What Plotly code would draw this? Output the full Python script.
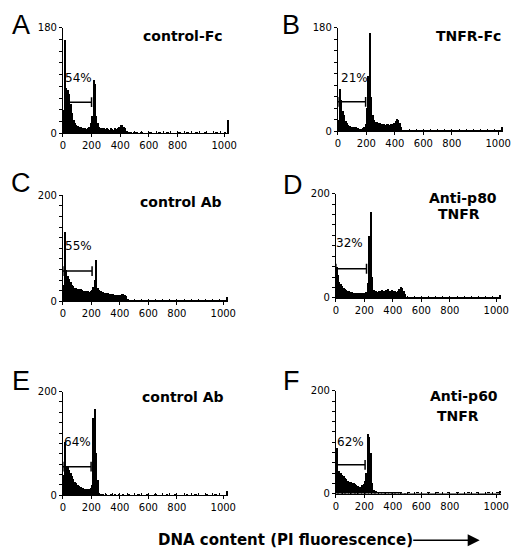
import plotly.graph_objects as go

# DNA histogram channels (bin starts); coarse bins in the low region, wider bins in the tail
channels = list(range(0, 500, 10))
tail_channels = list(range(500, 1150, 20))
end_channel = 1150

# counts per 10-channel bin, 0..490
counts_a = [40, 160, 78, 75, 68, 50, 35, 24, 18, 15,
            13, 12, 11, 10, 9, 9, 8, 9, 12, 18,
            30, 92, 85, 30, 18, 12, 10, 9, 10, 8,
            9, 8, 7, 9, 8, 7, 9, 8, 10, 12,
            14, 14, 12, 9, 5, 3, 2, 2, 1, 2]
counts_b = [20, 73, 55, 35, 28, 18, 14, 11, 9, 8,
            8, 7, 7, 6, 6, 5, 5, 6, 8, 12,
            40, 96, 172, 60, 28, 20, 17, 16, 15, 14,
            13, 12, 12, 11, 12, 12, 11, 12, 13, 15,
            18, 22, 20, 15, 8, 3, 2, 1, 1, 1]
counts_c = [30, 130, 58, 48, 42, 36, 31, 28, 25, 24,
            23, 22, 22, 20, 19, 19, 18, 18, 17, 18,
            20, 26, 40, 77, 25, 20, 18, 17, 17, 16,
            16, 15, 14, 14, 13, 13, 12, 12, 12, 11,
            12, 13, 14, 12, 10, 4, 2, 1, 1, 1]
counts_d = [60, 45, 32, 28, 24, 20, 17, 15, 14, 13,
            12, 12, 11, 11, 10, 10, 11, 10, 10, 11,
            10, 12, 30, 119, 166, 40, 15, 13, 14, 12,
            14, 13, 15, 13, 14, 16, 17, 14, 13, 15,
            14, 13, 12, 14, 18, 22, 19, 13, 8, 3]
counts_e = [40, 104, 57, 56, 50, 44, 38, 32, 27, 24,
            21, 19, 17, 15, 14, 13, 13, 13, 13, 14,
            20, 150, 167, 82, 30, 6, 3, 2, 2, 1,
            2, 1, 1, 2, 1, 1, 2, 1, 1, 2,
            1, 1, 2, 1, 1, 1, 2, 1, 1, 1]
counts_f = [89, 44, 44, 40, 37, 34, 31, 28, 25, 23,
            22, 21, 20, 19, 17, 15, 14, 14, 16, 18,
            25, 40, 116, 110, 79, 20, 8, 5, 5, 4,
            4, 4, 3, 4, 3, 3, 4, 3, 3, 3,
            3, 4, 3, 2, 2, 2, 1, 1, 1, 1]

# counts per 20-channel bin, 500..1140
tail_a = [2, 1, 2, 1, 1, 2, 1, 1, 2, 1, 1, 2, 1, 1, 1, 2, 1,
          1, 2, 1, 1, 2, 1, 1, 2, 1, 1, 1, 2, 1, 1, 2, 1]
tail_b = [1, 2, 1, 1, 2, 1, 1, 1, 2, 1, 1, 2, 1, 1, 2, 1, 1,
          1, 2, 1, 1, 2, 1, 1, 1, 2, 1, 1, 2, 1, 1, 1, 2]
tail_c = [1, 1, 2, 1, 1, 1, 2, 1, 1, 1, 2, 1, 1, 1, 1, 2, 1,
          1, 1, 2, 1, 1, 1, 2, 1, 1, 1, 1, 2, 1, 1, 1, 2]
tail_d = [2, 1, 1, 2, 1, 1, 2, 1, 1, 1, 2, 1, 1, 2, 1, 1, 1,
          2, 1, 1, 1, 2, 1, 1, 2, 1, 1, 1, 2, 1, 1, 1, 2]
tail_e = [1, 2, 1, 1, 2, 1, 1, 2, 1, 1, 1, 2, 1, 1, 2, 1, 1,
          1, 2, 1, 1, 2, 1, 1, 1, 2, 1, 1, 2, 1, 1, 1, 2]
tail_f = [2, 1, 1, 2, 1, 1, 1, 2, 1, 1, 2, 1, 1, 1, 2, 1, 1,
          2, 1, 1, 1, 2, 1, 1, 2, 1, 1, 1, 2, 1, 1, 2, 1]

# overflow channel at the right end
overflow = [22, 5, 5, 4, 7, 5]

# sub-G1 gate (start, end, level) and its percentage
gate_start = [20, 0, 0, 0, 0, 0]
gate_end = [200, 195, 205, 215, 198, 205]
gate_level = [53, 51, 57, 56, 55, 56]
gate_pct = ["54%", "21%", "55%", "32%", "64%", "62%"]

panel_letters = ["A", "B", "C", "D", "E", "F"]
panel_titles = [["control-Fc"], ["TNFR-Fc"], ["control Ab"],
                ["Anti-p80", "TNFR"], ["control Ab"], ["Anti-p60", "TNFR"]]
y_max = [180, 180, 200, 200, 200, 200]

x_ticks = [0, 200, 400, 600, 800, 1125]
x_ticktext = ["0", "200", "400", "600", "800", "1000"]

# page body keeps an 8 px margin, so the figure is sized to fill the rest of the window
OFF = 8
W, H = 520 - OFF, 555 - OFF
def px(x):
    return (x - OFF) / W
def py(y):
    return 1 - (y - OFF) / H

# plot areas in window pixels: left, right, top, bottom
boxes = [(61, 231, 22, 130), (342, 511, 22, 127.7),
         (61, 230, 193.3, 301.7), (340, 509, 191.7, 298.3),
         (61, 230, 394, 500), (340, 509, 393.3, 498.3)]
letter_pos = [(18, 19), (294, 19), (18, 181), (296, 183), (18, 383), (295, 383)]
title_pos = [[(184, 30)], [(476, 30)], [(182, 200)],
             [(470, 196), (466, 212)], [(184, 400)], [(471, 399), (465, 419)]]
pct_pos = [(109, 95), (120, 93), (109, 105), (95, 106), (102, 102), (102, 100)]

all_counts = [counts_a, counts_b, counts_c, counts_d, counts_e, counts_f]
all_tails = [tail_a, tail_b, tail_c, tail_d, tail_e, tail_f]

tick_font = dict(family="DejaVu Sans", size=10, color="black")

fig = go.Figure()
for i in range(6):
    n = i + 1
    xa = "x" if n == 1 else f"x{n}"
    ya = "y" if n == 1 else f"y{n}"
    xs = [c + 5 for c in channels] + [c + 10 for c in tail_channels] + [end_channel]
    ws = [10] * len(channels) + [20] * len(tail_channels) + [9]
    ys = all_counts[i] + all_tails[i] + [overflow[i]]
    fig.add_trace(go.Bar(x=xs, y=ys, width=ws, xaxis=xa, yaxis=ya,
                         marker=dict(color="black", line=dict(width=0)),
                         showlegend=False, hoverinfo="skip"))
    fig.add_trace(go.Scatter(x=[gate_start[i], gate_end[i]], y=[gate_level[i], gate_level[i]],
                             xaxis=xa, yaxis=ya, mode="lines+markers",
                             line=dict(color="black", width=1.5),
                             marker=dict(symbol="line-ns", size=7, color="black",
                                         line=dict(color="black", width=1.5)),
                             showlegend=False, hoverinfo="skip"))

    l, r, t, b = boxes[i]
    key = "" if n == 1 else str(n)
    fig.layout["xaxis" + key] = dict(
        domain=[px(l), px(r)], range=[0, 1160], anchor=ya,
        showline=True, linecolor="black", linewidth=1, showgrid=False, zeroline=False,
        tickvals=x_ticks, ticktext=x_ticktext, ticks="outside", ticklen=3,
        tickcolor="black", tickfont=tick_font,
        minor=dict(dtick=50, tick0=0, ticks="inside", ticklen=2, tickcolor="black"))
    fig.layout["yaxis" + key] = dict(
        domain=[py(b), py(t)], range=[0, y_max[i]], anchor=xa,
        showline=True, linecolor="black", linewidth=1, showgrid=False, zeroline=False,
        tickvals=[0, y_max[i]], ticks="outside", ticklen=3, tickcolor="black",
        tickfont=tick_font,
        minor=dict(dtick=20, tick0=0, ticks="outside", ticklen=3, tickcolor="black"))

    fig.add_annotation(x=pct_pos[i][0], y=pct_pos[i][1], xref=xa, yref=ya,
                       text=gate_pct[i], showarrow=False,
                       xanchor="center", yanchor="middle",
                       font=dict(family="DejaVu Sans", size=12, color="black"))
    lx, ly = letter_pos[i]
    fig.add_annotation(x=px(lx), y=py(ly), xref="paper", yref="paper",
                       text=panel_letters[i], showarrow=False,
                       xanchor="center", yanchor="middle",
                       font=dict(family="Liberation Sans", size=27, color="black"))
    for line, (tx, ty) in zip(panel_titles[i], title_pos[i]):
        fig.add_annotation(x=px(tx), y=py(ty), xref="paper", yref="paper",
                           text=line, showarrow=False,
                           xanchor="center", yanchor="middle",
                           font=dict(family="DejaVu Sans", size=14, color="black",
                                     weight="bold"))

# shared x-axis caption with arrow
fig.add_annotation(x=px(289), y=py(546), xref="paper", yref="paper",
                   text="DNA content (PI fluorescence)", showarrow=False,
                   xanchor="center", yanchor="middle",
                   font=dict(family="DejaVu Sans", size=15, color="black", weight="bold"))
fig.add_annotation(x=px(487), y=py(546), xref="paper", yref="paper",
                   ax=-68, ay=0, text="", showarrow=True,
                   arrowhead=2, arrowsize=1.6, arrowwidth=1.5, arrowcolor="black")

fig.update_layout(width=W, height=H, margin=dict(l=0, r=0, t=0, b=0),
                  plot_bgcolor="white", paper_bgcolor="white", bargap=0)

fig.write_html("out.html")
